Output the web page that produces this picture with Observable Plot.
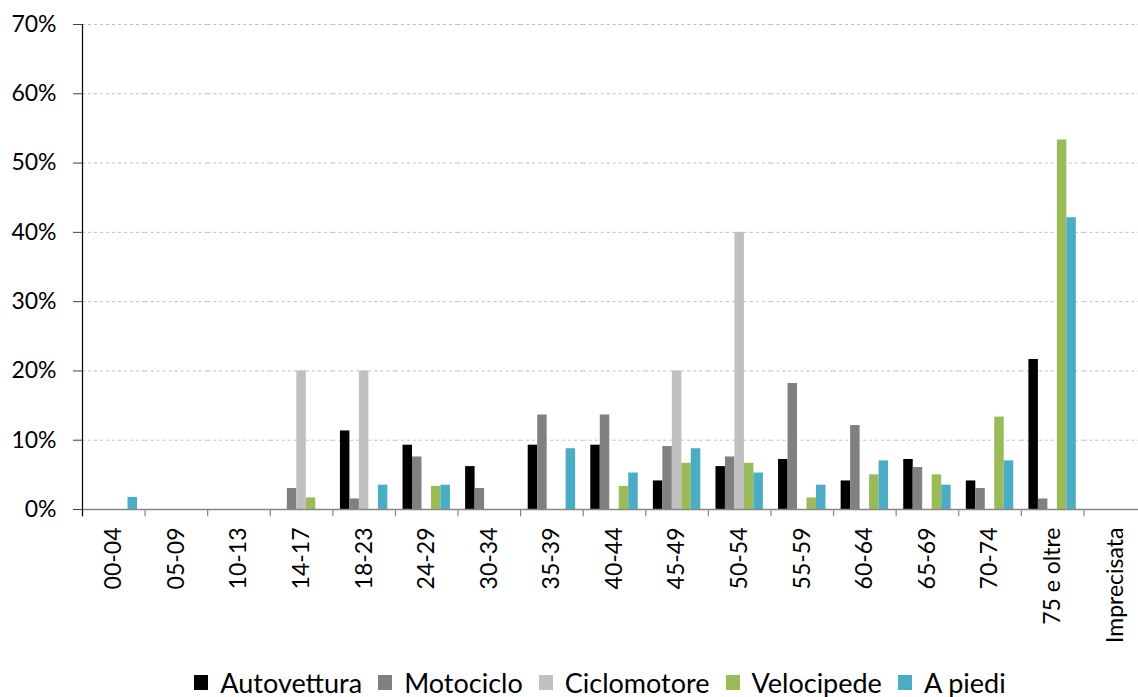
<!DOCTYPE html>
<html>
<head>
<meta charset="utf-8">
<script src="https://cdn.jsdelivr.net/npm/d3@7"></script>
<script src="https://cdn.jsdelivr.net/npm/@observablehq/plot@0.6"></script>
<style>
  html, body { margin: 0; padding: 0; background: #fff; }
  body { position: relative; width: 1138px; height: 697px; overflow: hidden; font-family: Lato, sans-serif; }
  #legend { position: absolute; left: 0; top: 668px; width: 1138px; height: 29px; display: flex; justify-content: center; align-items: center; font-size: 27px; color: #000; line-height: 1; padding-left: 62px; box-sizing: border-box; }
  .item { display: flex; align-items: center; margin: 0 8px; }
  .sw { width: 14px; height: 15px; margin-right: 12px; display: inline-block; }
</style>
</head>
<body>
<div id="chart"></div>
<div id="legend"></div>
<script>
const categories = ["00-04","05-09","10-13","14-17","18-23","24-29","30-34","35-39","40-44","45-49","50-54","55-59","60-64","65-69","70-74","75 e oltre","Imprecisata"];
const seriesNames = ["Autovettura","Motociclo","Ciclomotore","Velocipede","A piedi"];
const seriesColors = ["#000000","#808080","#c0c0c0","#9bbb59","#4bacc6"];
const autovettura = [0,0,0,0,11.34,9.28,6.19,9.28,9.28,4.12,6.19,7.22,4.12,7.22,4.12,21.65,0];
const motociclo   = [0,0,0,3.03,1.52,7.58,3.03,13.64,13.64,9.09,7.58,18.18,12.12,6.06,3.03,1.52,0];
const ciclomotore = [0,0,0,20,20,0,0,0,0,20,40,0,0,0,0,0,0];
const velocipede  = [0,0,0,1.67,0,3.33,0,0,3.33,6.67,6.67,1.67,5.0,5.0,13.33,53.33,0];
const aPiedi      = [1.75,0,0,0,3.51,3.51,0,8.77,5.26,8.77,5.26,3.51,7.02,3.51,7.02,42.11,0];
const yTicks = [0,10,20,30,40,50,60,70];

const seriesValues = [autovettura, motociclo, ciclomotore, velocipede, aPiedi];
const data = categories.flatMap((c, i) => seriesNames.map((s, j) => ({cat: c, series: s, value: seriesValues[j][i]})));

const W = 1138, H = 650, ML = 82, MR = -8, MT = 24, MB = 141;
const PO = 0.8;
const facetW = (W - MR - ML) / categories.length;
const step = facetW / (seriesNames.length + 2 * PO);
const tickDx = -(PO * step + step / 2);

const chart = Plot.plot({
  width: W, height: H,
  marginLeft: ML, marginRight: MR, marginTop: MT, marginBottom: MB,
  style: {fontFamily: "Lato, sans-serif", fontSize: "23px", color: "#000", background: "white"},
  fx: {domain: categories, padding: 0, round: false, label: null, axis: null},
  x: {domain: seriesNames, paddingInner: 0, paddingOuter: PO, round: false, axis: null},
  y: {domain: [0, 70], axis: null},
  color: {domain: seriesNames, range: seriesColors},
  marks: [
    Plot.gridY(yTicks.filter(t => t > 0), {stroke: "#bfbfbf", strokeOpacity: 1, strokeDasharray: "3,3"}),
    Plot.axisY(yTicks, {tickSize: 9, tickPadding: 17, tickFormat: d => d + "%", stroke: "#404040", label: null, fontSize: 23}),
    Plot.barY(data, {fx: "cat", x: "series", y: "value", fill: "series"}),
    Plot.ruleY([0], {stroke: "#868686", strokeWidth: 1.5}),
    Plot.ruleX(categories, {fx: d => d, x: () => seriesNames[0], y1: 0, y2: -1.05, dx: tickDx, stroke: "#868686", strokeWidth: 1.2}),
    Plot.ruleX([categories[0]], {fx: d => d, x: () => seriesNames[0], y1: -1.05, y2: 70, dx: tickDx, stroke: "#000", strokeWidth: 1.2}),
    Plot.axisFx({anchor: "bottom", tickSize: 0, tickPadding: 18, tickRotate: -90, label: null, fontSize: 23})
  ]
});
document.getElementById("chart").appendChild(chart);

const legend = document.getElementById("legend");
seriesNames.forEach((s, i) => {
  const item = document.createElement("div");
  item.className = "item";
  const sw = document.createElement("span");
  sw.className = "sw";
  sw.style.background = seriesColors[i];
  const t = document.createElement("span");
  t.textContent = s;
  item.appendChild(sw);
  item.appendChild(t);
  legend.appendChild(item);
});
</script>
</body>
</html>
